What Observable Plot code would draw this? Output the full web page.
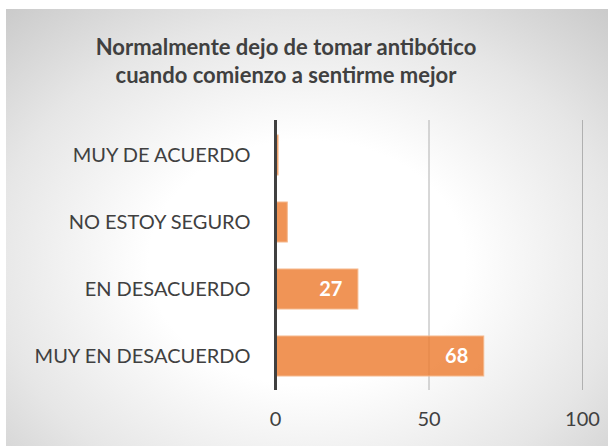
<!DOCTYPE html>
<html>
<head>
<meta charset="utf-8">
<script src="https://cdn.jsdelivr.net/npm/d3@7"></script>
<script src="https://cdn.jsdelivr.net/npm/@observablehq/plot@0.6"></script>
<style>
  html, body { margin: 0; padding: 0; background: #fff; }
  #outer { position: relative; width: 608px; height: 446px; background: #fff; overflow: hidden; }
  #chart {
    position: absolute; left: 6px; top: 9px; width: 602px; height: 437px;
    background: radial-gradient(ellipse 75% 80% at 50% 58%, #ffffff 35%, #e6e6e6 70%, #c9c9c9 100%);
    font-family: Lato, "Open Sans", sans-serif;
  }
  #title {
    position: absolute; left: 0; top: 24px; width: 560px;
    text-align: center; font-weight: bold; font-size: 22px; line-height: 28px; color: #404040;
  }
  #plot { position: absolute; left: 0; top: 96px; }
</style>
</head>
<body>
<div id="outer"><div id="chart">
  <div id="title">Normalmente dejo de tomar antibótico<br>cuando comienzo a sentirme mejor</div>
  <div id="plot"></div>
</div></div>
<script>
const categories = ["MUY DE ACUERDO", "NO ESTOY SEGURO", "EN DESACUERDO", "MUY EN DESACUERDO"];
const values = [1, 4, 27, 68];
const xTicks = [0, 50, 100];

const data = categories.map((c, i) => ({category: c, value: values[i]}));

const chart = Plot.plot({
  width: 602,
  height: 341,
  marginLeft: 269,
  marginRight: 26,
  marginTop: 15,
  marginBottom: 56,
  style: {background: "transparent", fontFamily: "Lato, 'Open Sans', sans-serif", color: "#404040"},
  x: {domain: [0, 100], ticks: xTicks, label: null},
  y: {domain: categories, paddingInner: 0.41, paddingOuter: 0.2, label: null},
  marks: [
    Plot.gridX(xTicks.filter(t => t > 0), {stroke: "#b0b0b0", strokeOpacity: 1, strokeWidth: 1}),
    Plot.barX(data, {y: "category", x: "value", fill: "#ED7D31", fillOpacity: 0.82, stroke: "#F5B88C", strokeWidth: 1}),
    Plot.ruleX([0], {stroke: "#404040", strokeWidth: 3}),
    Plot.text(data.filter(d => d.value > 10), {
      y: "category", x: "value", text: d => String(d.value),
      textAnchor: "end", dx: -16, fill: "white", fontWeight: "bold", fontSize: 20
    }),
    Plot.axisX({ticks: xTicks, tickSize: 0, tickPadding: 21, fontSize: 20, fill: "#404040", label: null}),
    Plot.axisY({tickSize: 0, tickPadding: 25, fontSize: 20, fill: "#404040", label: null})
  ]
});
document.getElementById("plot").appendChild(chart);
</script>
</body>
</html>
